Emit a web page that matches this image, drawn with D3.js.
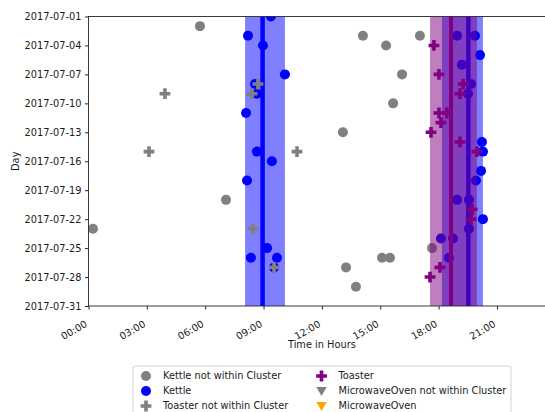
<!DOCTYPE html>
<html><head><meta charset="utf-8">
<script src="https://cdn.jsdelivr.net/npm/d3@7"></script>
<style>
body{margin:0;background:#fff;}
svg{display:block;font-family:"DejaVu Sans",sans-serif;}
</style>
</head><body>
<svg id="chart" width="545" height="412"></svg>
<script>
// ---- data (hour of day, day of July 2017) ----
const kettleOutHours = [5.73, 0.23, 7.07, 13.08, 14.11, 15.30, 16.12, 17.04, 15.66, 13.24, 13.75, 15.09, 15.50, 17.66];
const kettleOutDays  = [2, 23, 20, 13, 3, 4, 7, 3, 10, 27, 29, 26, 26, 25];

const kettleHours = [9.38, 8.20, 8.97, 10.10, 8.56, 8.66, 8.10, 8.66, 9.43, 8.15, 9.18, 8.35, 9.69, 9.54,
                     18.95, 19.87, 20.13, 19.20, 19.67, 19.51, 20.23, 20.28, 20.18, 19.92, 18.95, 19.56, 20.28, 19.56, 18.12, 18.74, 18.53];
const kettleDays  = [1, 3, 4, 7, 8, 9, 11, 15, 16, 18, 25, 26, 26, 27,
                     3, 3, 5, 6, 8, 9, 14, 15, 17, 18, 20, 20, 22, 23, 24, 24, 26];

const toasterOutHours = [3.93, 3.11, 10.72, 8.71, 8.41, 8.46, 9.54];
const toasterOutDays  = [9, 15, 15, 8, 9, 23, 27];

const toasterHours = [17.76, 18.02, 19.26, 19.10, 18.02, 18.43, 18.12, 17.61, 19.10, 19.97, 19.72, 19.67, 18.07, 17.56];
const toasterDays  = [4, 7, 8, 9, 11, 11, 12, 13, 14, 15, 21, 22, 27, 28];

const kettleSpanStart = [8.05, 18.17];
const kettleSpanEnd   = [10.10, 20.28];
const kettleCenters   = [8.95, 19.53];
const toasterSpanStart = [17.56];
const toasterSpanEnd   = [19.97];
const toasterCenters   = [18.64];

const xTickHours = [0, 3, 6, 9, 12, 15, 18, 21];
const yTickDays  = [1, 4, 7, 10, 13, 16, 19, 22, 25, 28, 31];

const legendLabels = ["Kettle not within Cluster", "Kettle", "Toaster not within Cluster",
                      "Toaster", "MicrowaveOven not within Cluster", "MicrowaveOven"];
const legendColors = ["#808080", "#0000ff", "#808080", "#800080", "#808080", "#ffa500"];
const legendShapes = ["circle", "circle", "plus", "plus", "tri", "tri"];

// ---- layout ----
const svg = d3.select("#chart");
const L = 88.5, R = 555.3, T = 16.5, B = 306;
const x = d3.scaleLinear().domain([0, 24]).range([L, R]);
const dayDate = d => new Date(2017, 6, d);
const y = d3.scaleTime().domain([dayDate(1), dayDate(31)]).range([T, B]);

svg.append("defs").append("clipPath").attr("id", "clip")
  .append("rect").attr("x", L).attr("y", T).attr("width", R - L).attr("height", B - T);
const plot = svg.append("g").attr("clip-path", "url(#clip)");

const plusPath = (s) => {
  const a = s, b = s / 3;
  return `M${-b},${-a}H${b}V${-b}H${a}V${b}H${b}V${a}H${-b}V${b}H${-a}V${-b}H${-b}Z`;
};
const triPath = (s) => `M${-s},${-s*0.75}L${s},${-s*0.75}L0,${s*0.95}Z`;

function circles(hours, days, color) {
  plot.append("g").selectAll("circle").data(hours).join("circle")
    .attr("cx", d => x(d)).attr("cy", (d, i) => y(dayDate(days[i])))
    .attr("r", 5).attr("fill", color);
}
function pluses(hours, days, color) {
  plot.append("g").selectAll("path").data(hours).join("path")
    .attr("transform", (d, i) => `translate(${x(d)},${y(dayDate(days[i]))})`)
    .attr("d", plusPath(5.4)).attr("fill", color);
}
function spans(starts, ends, centers, color, lw) {
  const g = plot.append("g");
  g.selectAll("rect").data(starts).join("rect")
    .attr("x", d => x(d)).attr("width", (d, i) => x(ends[i]) - x(d))
    .attr("y", T).attr("height", B - T).attr("fill", color).attr("opacity", 0.5);
  g.selectAll("line").data(centers).join("line")
    .attr("x1", d => x(d)).attr("x2", d => x(d)).attr("y1", T).attr("y2", B)
    .attr("stroke", color).attr("stroke-width", lw);
}

circles(kettleOutHours, kettleOutDays, "#808080");
circles(kettleHours, kettleDays, "#0000ff");
spans(kettleSpanStart, kettleSpanEnd, kettleCenters, "#0000ff", 4.5);
pluses(toasterOutHours, toasterOutDays, "#808080");
pluses(toasterHours, toasterDays, "#800080");
spans(toasterSpanStart, toasterSpanEnd, toasterCenters, "#800080", 4);

// ---- frame ----
svg.append("rect").attr("x", L).attr("y", T).attr("width", R - L).attr("height", B - T)
  .attr("fill", "none").attr("stroke", "#262626").attr("stroke-width", 0.9);

// ---- axes ----
const yAxis = d3.axisLeft(y).tickValues(yTickDays.map(dayDate))
  .tickFormat(d3.timeFormat("%Y-%m-%d")).tickSize(3.5).tickPadding(3.5);
const gy = svg.append("g").attr("transform", `translate(${L},0)`).call(yAxis);
gy.select(".domain").remove();
gy.selectAll("text").attr("font-size", 9.8).attr("fill", "#1a1a1a").attr("font-family", "DejaVu Sans");
gy.selectAll("line").attr("stroke", "#262626");

const xAxis = d3.axisBottom(x).tickValues(xTickHours)
  .tickFormat(h => String(h).padStart(2, "0") + ":00").tickSize(3.5);
const gx = svg.append("g").attr("transform", `translate(0,${B})`).call(xAxis);
gx.select(".domain").remove();
gx.selectAll("line").attr("stroke", "#262626");
gx.selectAll("text")
  .attr("font-size", 9.8).attr("fill", "#1a1a1a").attr("font-family", "DejaVu Sans")
  .attr("text-anchor", "end").attr("dy", null).attr("y", null)
  .attr("transform", "translate(-1,20) rotate(-30)");

svg.append("text").attr("x", (L + R) / 2).attr("y", 348).attr("text-anchor", "middle")
  .attr("font-size", 9.8).attr("fill", "#1a1a1a").text("Time in Hours");
svg.append("text").attr("transform", `translate(19,${(T + B) / 2}) rotate(-90)`)
  .attr("text-anchor", "middle").attr("font-size", 9.8).attr("fill", "#1a1a1a").text("Day");

// ---- legend ----
const lg = svg.append("g");
lg.append("rect").attr("x", 133).attr("y", 366).attr("width", 378).attr("height", 60)
  .attr("rx", 2.5).attr("fill", "#fff").attr("fill-opacity", 0.8)
  .attr("stroke", "#cccccc").attr("stroke-width", 0.9);
const items = lg.selectAll("g.item").data(legendLabels).join("g").attr("class", "item")
  .attr("transform", (d, i) => `translate(${i < 3 ? 146 : 321.5},${376 + (i % 3) * 15})`);
items.each(function(d, i) {
  const g = d3.select(this);
  if (legendShapes[i] === "circle") g.append("circle").attr("r", 5).attr("fill", legendColors[i]);
  else if (legendShapes[i] === "plus") g.append("path").attr("d", plusPath(5.4)).attr("fill", legendColors[i]);
  else g.append("path").attr("d", triPath(5.2)).attr("fill", legendColors[i]);
  g.append("text").attr("x", 17).attr("dy", "0.35em").attr("font-size", 9.8)
    .attr("fill", "#1a1a1a").text(d);
});
</script>
</body></html>
